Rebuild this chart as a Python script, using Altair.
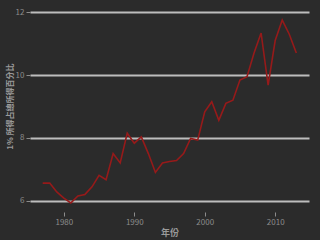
import altair as alt
import pandas as pd

years = list(range(1977, 2014))
share = [6.56, 6.56, 6.28, 6.08, 5.93, 6.15, 6.20, 6.44, 6.81, 6.67,
         7.50, 7.20, 8.15, 7.83, 8.03, 7.50, 6.90, 7.20, 7.25, 7.28,
         7.50, 7.98, 7.93, 8.83, 9.15, 8.56, 9.10, 9.20, 9.84, 9.95,
         10.70, 11.34, 9.68, 11.10, 11.75, 11.30, 10.70]
x_ticks = [1980, 1990, 2000, 2010]
y_ticks = [6, 8, 10, 12]

df = pd.DataFrame({"year": years, "share": share})
FONT = "Noto Sans CJK TC"

chart = alt.Chart(df).mark_line(color="#961a1a", strokeWidth=1.6).encode(
    x=alt.X("year:Q", title="年份",
            scale=alt.Scale(domain=[1975.2, 2014.8], nice=False, zero=False),
            axis=alt.Axis(values=x_ticks, format="d", grid=False, domain=False,
                          tickColor="#8c8c8c", tickSize=4, labelColor="#8c8c8c",
                          labelFontSize=8, labelPadding=2, titleColor="#9a9a9a",
                          titleFontSize=9, titleFontWeight="bold", titlePadding=2,
                          labelFont=FONT, titleFont=FONT)),
    y=alt.Y("share:Q", title="1% 所得占總所得百分比",
            scale=alt.Scale(domain=[5.64, 12.04], nice=False, zero=False),
            axis=alt.Axis(values=y_ticks, format="d", grid=True, gridColor="#bdbdbd",
                          gridWidth=1.8, domain=False, tickColor="#8c8c8c", tickSize=4,
                          labelColor="#8c8c8c", labelFontSize=8, labelPadding=2,
                          titleColor="#9a9a9a", titleFontSize=8, titleFontWeight="bold",
                          titlePadding=1, titleY=95, labelFont=FONT, titleFont=FONT)),
).properties(
    width=279, height=201,
    background="#2b2b2b",
    padding={"left": 30, "top": 11, "right": 11, "bottom": 28},
    autosize=alt.AutoSizeParams(type="none"),
).configure_view(stroke=None, fill="#2b2b2b")

chart.save("out.html", embed_options={"renderer": "svg", "actions": False})
